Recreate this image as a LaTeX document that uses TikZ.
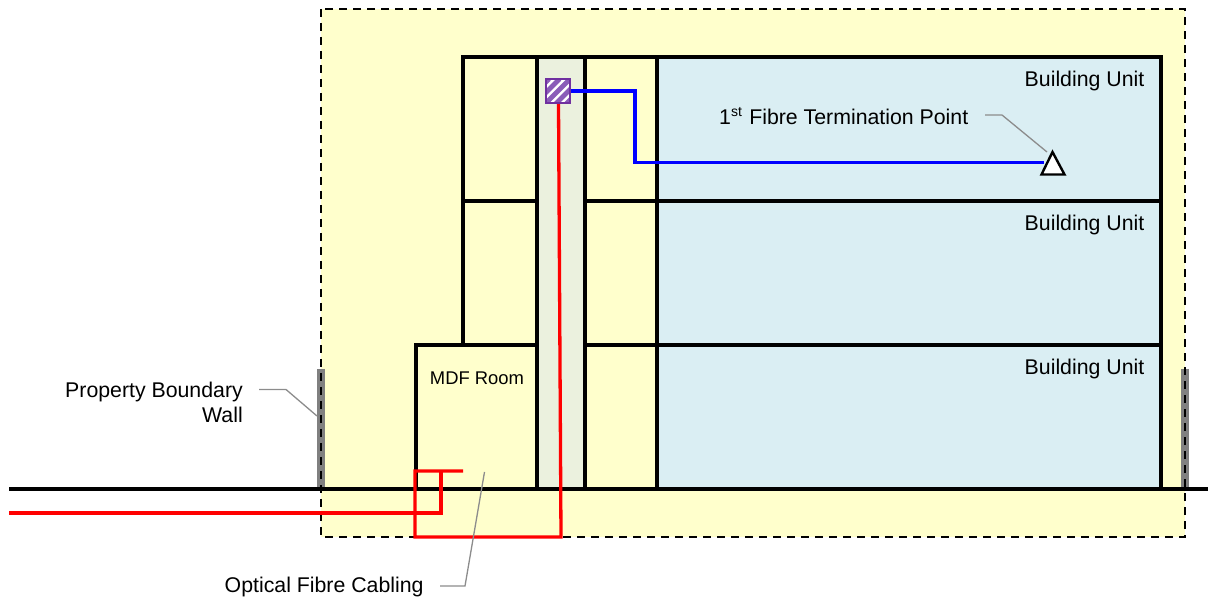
\documentclass[tikz,border=0pt]{standalone}
\usepackage{fontspec}
\setmainfont{Liberation Sans}
\definecolor{siteyellow}{HTML}{FFFFCC}
\definecolor{unitblue}{HTML}{DAEEF3}
\definecolor{shaftgreen}{HTML}{EBF1DE}
\definecolor{hatchpurple}{HTML}{7030A0}
\definecolor{hatchstripe}{HTML}{8A5CB8}
\definecolor{fibrered}{HTML}{FF0000}
\definecolor{fibreblue}{HTML}{0000FF}
\definecolor{leadergray}{HTML}{8C8C8C}
\definecolor{wallgray}{HTML}{808080}
\tikzset{
  wallline/.style={black,line width=4.2pt,line cap=rect},
  groundline/.style={black,line width=4.6pt},
  redfibre/.style={fibrered,line width=3.3pt,line join=miter},
  bluefibre/.style={fibreblue,line width=3.3pt,line join=miter},
  leader/.style={leadergray,line width=1.3pt},
  boundarywall/.style={wallgray,line width=8pt},
  sitedash/.style={black,line width=2.1pt,dash pattern=on 8pt off 6pt},
  lbl/.style={font=\fontsize{21.3}{25}\selectfont,inner sep=0pt,text=black},
  lblsmall/.style={font=\fontsize{18.4}{22}\selectfont,inner sep=0pt,text=black},
}
\begin{document}
\begin{tikzpicture}[x=1pt,y=-1pt]
\useasboundingbox (0,0) rectangle (1208,601);
% site
\fill[siteyellow] (321,9) rectangle (1185,537);
% fills
\fill[unitblue] (657,57) rectangle (1161,489);
\fill[shaftgreen] (537,57) rectangle (585,489);
% walls
\coordinate (wallLt) at (321,369);
\coordinate (wallLb) at (321,489);
\coordinate (wallRt) at (1185,369);
\coordinate (wallRb) at (1185,489);
\draw[boundarywall] (wallLt) -- (wallLb);
\draw[boundarywall] (wallRt) -- (wallRb);
\draw[sitedash] (321,9) rectangle (1185,537);
% building
\draw[wallline] (463,345) -- (463,57) -- (1161,57) -- (1161,489);
\draw[wallline] (537,57) -- (537,489);
\draw[wallline] (585,57) -- (585,489);
\draw[wallline] (657,57) -- (657,489);
\draw[wallline] (463,201) -- (537,201);
\draw[wallline] (585,201) -- (1161,201);
\draw[wallline] (416,345) -- (537,345);
\draw[wallline] (585,345) -- (1161,345);
\draw[wallline] (416,345) -- (416,489);
% ground
\coordinate (groundL) at (9,489);
\coordinate (groundR) at (1208,489);
\draw[groundline] (groundL) -- (groundR);
% leaders
\coordinate (ldA1) at (985,115);
\coordinate (ldA2) at (1002,115);
\coordinate (ldA3) at (1047,152);
\draw[leader] (ldA1) -- (ldA2) -- (ldA3);
\coordinate (ldB1) at (259,389.5);
\coordinate (ldB2) at (286,389.5);
\coordinate (ldB3) at (317,416);
\draw[leader] (ldB1) -- (ldB2) -- (ldB3);
\coordinate (ldC1) at (440,586);
\coordinate (ldC2) at (465,586);
\coordinate (ldC3) at (484.5,472);
% red fibres
\coordinate (redIn) at (9,513);
\coordinate (redJ) at (441,513);
\coordinate (redK) at (441,471);
\coordinate (redEnd) at (463,471);
\coordinate (redL) at (415,471);
\coordinate (redM) at (415,537);
\coordinate (redN) at (561,537);
\coordinate (redTop) at (558.5,103);
\draw[redfibre] (redIn) -- (redJ) -- (redK);
\draw[redfibre] (redEnd) -- (redL) -- (redM) -- (redN) -- (redTop);
\draw[leader] (ldC1) -- (ldC2) -- (ldC3);
% blue fibre
\coordinate (sqE) at (570,91);
\coordinate (blueA) at (635,91);
\coordinate (blueB) at (635,162.5);
\coordinate (blueEnd) at (1044,162.5);
\draw[bluefibre] (sqE) -- (blueA) -- (blueB) -- (blueEnd);
% hatched box
\begin{scope}
  \clip (546,79) rectangle (570,103);
  \fill[white] (546,79) rectangle (570,103);
  \foreach \k in {-2,...,7} {
    \draw[hatchstripe,line width=4.6pt] (546+10.5*\k-12,115) -- (546+10.5*\k+24,79);
  }
\end{scope}
\draw[hatchpurple,line width=1.8pt] (546,79) rectangle (570,103);
% triangle
\coordinate (triT) at (1052.5,152);
\coordinate (triL) at (1041.5,174.5);
\coordinate (triR) at (1064.5,174.5);
\draw[black,fill=white,line width=2.4pt,line join=miter] (triT) -- (triL) -- (triR) -- cycle;
% labels
\node[lbl,anchor=east] (unitA) at (1144.5,81) {Building Unit};
\node[lbl,anchor=east] (unitB) at (1144.5,224.5) {Building Unit};
\node[lbl,anchor=east] (unitC) at (1144.5,368.5) {Building Unit};
\node[lbl,anchor=west] (ftpLabel) at (719,116) {1\raisebox{0.7ex}{\fontsize{14}{16}\selectfont st} \hspace{1.4pt}Fibre Termination Point};
\node[lblsmall,anchor=center] (mdf) at (477,378) {MDF Room};
\node[lbl,anchor=east] (pbw1) at (243,392) {Property Boundary};
\node[lbl,anchor=east] (pbw2) at (243,415) {Wall};
\node[lbl,anchor=west] (ofc) at (224.5,586.5) {Optical Fibre Cabling};
\end{tikzpicture}
\end{document}
